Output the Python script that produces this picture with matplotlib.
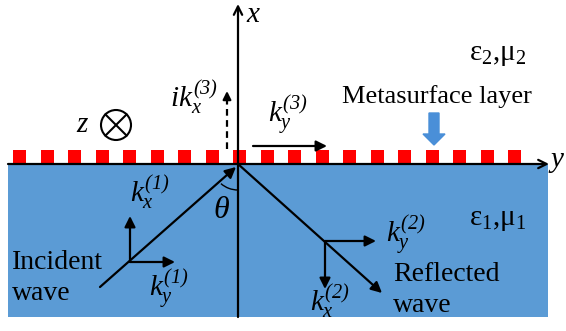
import numpy as np
import matplotlib
matplotlib.use('Agg')
import matplotlib.pyplot as plt
from matplotlib.patches import Rectangle, Circle, Arc, FancyArrow

plt.rcParams['font.family'] = ['Liberation Serif', 'DejaVu Serif']
plt.rcParams['mathtext.fontset'] = 'custom'
plt.rcParams['mathtext.rm'] = 'Liberation Serif'
plt.rcParams['mathtext.it'] = 'Liberation Serif:italic'
plt.rcParams['mathtext.bf'] = 'Liberation Serif:bold'
# italic digits/brackets for the superscripts
plt.rcParams['mathtext.sf'] = 'Liberation Serif:italic'

# Labels of the diagram
medium_labels = ['ε$_2$,μ$_2$', 'ε$_1$,μ$_1$']
wave_labels = ['Incident\nwave', 'Reflected\nwave']
layer_label = 'Metasurface layer'
k_labels = [r'$k_x^{\mathsf{(1)}}$', r'$k_y^{\mathsf{(1)}}$',
            r'$k_y^{\mathsf{(2)}}$', r'$k_x^{\mathsf{(2)}}$',
            r'$ik_x^{\mathsf{(3)}}$', r'$k_y^{\mathsf{(3)}}$']
n_cells = 19

W, H = 566, 331
fig = plt.figure(figsize=(W / 100, H / 100), dpi=100)
ax = fig.add_axes([0, 0, 1, 1])
ax.set_xlim(0, W)
ax.set_ylim(H, 0)
ax.axis('off')

blue = '#5b9bd5'
ox, oy = 238, 164  # origin (pixel coords)

# lower medium
ax.add_patch(Rectangle((8, oy), 540, 153, facecolor=blue, edgecolor='none', zorder=0))

# metasurface cells
for i in range(n_cells):
    ax.add_patch(Rectangle((13 + 27.5 * i, oy - 14), 13, 14, facecolor='#ff0000',
                           edgecolor='none', zorder=1))

def arrow(x0, y0, x1, y1, style='-|>', ls='-', ms=16):
    ax.annotate('', xy=(x1, y1), xytext=(x0, y0),
                arrowprops=dict(arrowstyle=style, color='black', lw=1.6,
                                linestyle=ls, mutation_scale=ms,
                                shrinkA=0, shrinkB=0), zorder=3)

# axes
arrow(8, oy, 549, oy, style='->', ms=15)
arrow(ox, 317, ox, 4, style='->', ms=15)
ax.text(550, oy - 4, 'y', fontsize=21, style='italic', va='center', ha='left')
ax.text(246, 15, 'x', fontsize=21, style='italic', va='center', ha='left')

# incident wave
arrow(100, 287, ox - 2, oy + 3)
arrow(130, 262, 130, 216)
arrow(130, 262, 175, 262)
ax.text(130, 192, k_labels[0], fontsize=21, va='center', ha='left')
ax.text(149, 289, k_labels[1], fontsize=21, va='center', ha='left')
ax.add_patch(Arc((ox, oy), 52, 52, angle=0, theta1=90, theta2=131,
                 color='black', lw=1.0, zorder=3))
ax.text(221, 211, r'$\theta$', fontsize=23, va='center', ha='center')
ax.text(12, 278, wave_labels[0], fontsize=20, va='center', ha='left', linespacing=1.3)

# reflected wave
arrow(ox, oy, 382, 293)
arrow(325, 241, 376, 241)
arrow(325, 241, 325, 289)
ax.text(386, 235, k_labels[2], fontsize=21, va='center', ha='left')
ax.text(310, 301, k_labels[3], fontsize=21, va='center', ha='left')
ax.text(393, 290, wave_labels[1], fontsize=20, va='center', ha='left', linespacing=1.3)

# evanescent / surface components
ax.plot([227, 227], [149, 100], color='black', lw=1.6, ls=(0, (3, 2)), zorder=3)
arrow(227, 100, 227, 91, ms=12)
ax.text(218, 97, k_labels[4], fontsize=21, va='center', ha='right')
arrow(253, 146, 327, 146)
ax.text(268, 115, k_labels[5], fontsize=21, va='center', ha='left')

# z direction into page
ax.text(82, 125, 'z', fontsize=21, style='italic', va='center', ha='center')
ax.add_patch(Circle((116, 125), 15, facecolor='none', edgecolor='black', lw=1.5))
d = 15 / np.sqrt(2)
ax.plot([116 - d, 116 + d], [125 - d, 125 + d], color='black', lw=1.5)
ax.plot([116 - d, 116 + d], [125 + d, 125 - d], color='black', lw=1.5)

# media and layer labels
ax.text(498, 55, medium_labels[0], fontsize=21, va='center', ha='center')
ax.text(498, 220, medium_labels[1], fontsize=21, va='center', ha='center')
ax.text(437, 97, layer_label, fontsize=19, va='center', ha='center')
ax.add_patch(FancyArrow(434, 113, 0, 32, width=10, head_width=22, head_length=11,
                        length_includes_head=True, color='#4a8fd8', zorder=2))

fig.savefig('out.png', dpi=100)
